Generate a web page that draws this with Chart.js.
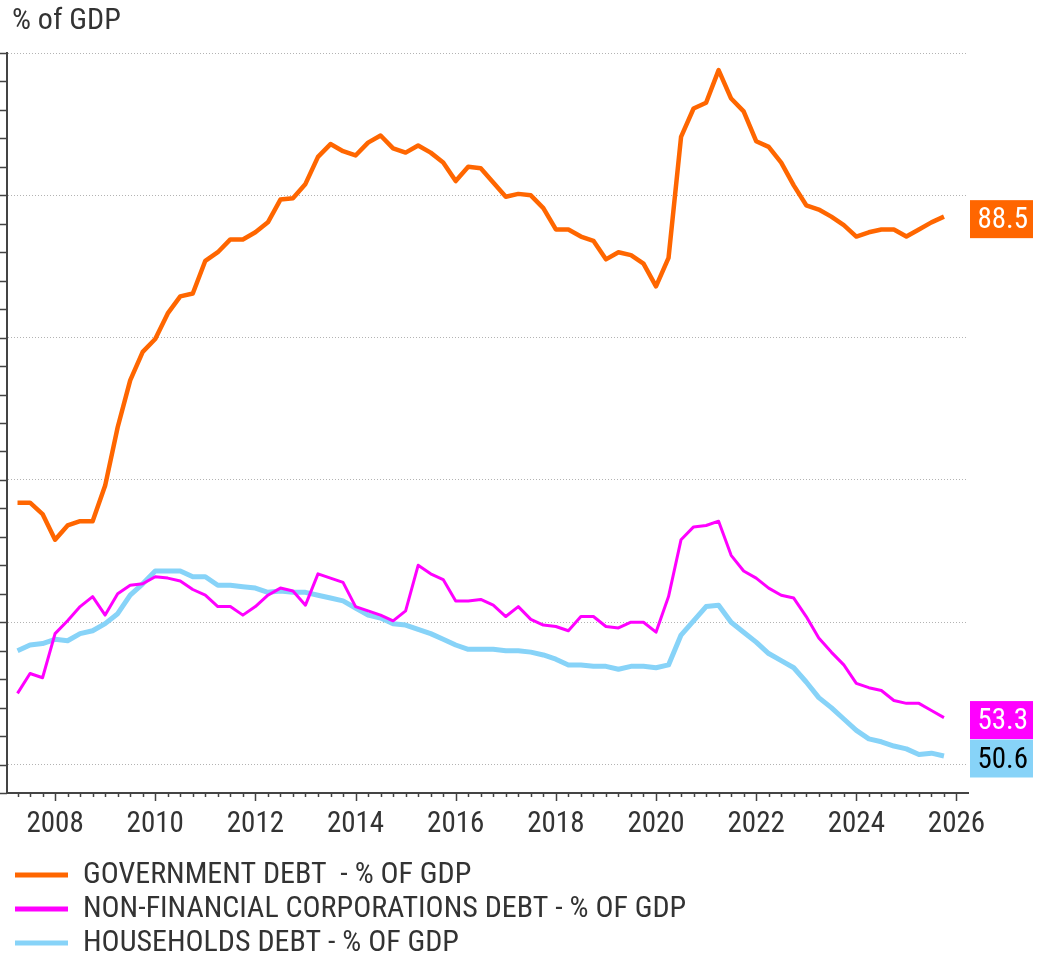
<!DOCTYPE html>
<html>
<head>
<meta charset="utf-8">
<title>Debt - % of GDP</title>
<script src="https://cdn.jsdelivr.net/npm/chart.js@4/dist/chart.umd.min.js"></script>
<style>
  html, body { margin: 0; padding: 0; background: #fff; }
  #wrap { width: 1038px; height: 956px; }
</style>
</head>
<body>
<div id="wrap"><canvas id="debtChart" width="1038" height="956"></canvas></div>
<script>
// quarterly observations, Q2 2007 - Q4 2025
const quarters = [
  '2007-Q2', '2007-Q3', '2007-Q4',
  '2008-Q1', '2008-Q2', '2008-Q3', '2008-Q4',
  '2009-Q1', '2009-Q2', '2009-Q3', '2009-Q4',
  '2010-Q1', '2010-Q2', '2010-Q3', '2010-Q4',
  '2011-Q1', '2011-Q2', '2011-Q3', '2011-Q4',
  '2012-Q1', '2012-Q2', '2012-Q3', '2012-Q4',
  '2013-Q1', '2013-Q2', '2013-Q3', '2013-Q4',
  '2014-Q1', '2014-Q2', '2014-Q3', '2014-Q4',
  '2015-Q1', '2015-Q2', '2015-Q3', '2015-Q4',
  '2016-Q1', '2016-Q2', '2016-Q3', '2016-Q4',
  '2017-Q1', '2017-Q2', '2017-Q3', '2017-Q4',
  '2018-Q1', '2018-Q2', '2018-Q3', '2018-Q4',
  '2019-Q1', '2019-Q2', '2019-Q3', '2019-Q4',
  '2020-Q1', '2020-Q2', '2020-Q3', '2020-Q4',
  '2021-Q1', '2021-Q2', '2021-Q3', '2021-Q4',
  '2022-Q1', '2022-Q2', '2022-Q3', '2022-Q4',
  '2023-Q1', '2023-Q2', '2023-Q3', '2023-Q4',
  '2024-Q1', '2024-Q2', '2024-Q3', '2024-Q4',
  '2025-Q1', '2025-Q2', '2025-Q3', '2025-Q4'
];

const govDebt = [
  68.4, 68.4, 67.6,
  65.8, 66.8, 67.1, 67.1,
  69.6, 73.7, 77.0, 79.0,
  79.9, 81.7, 82.9, 83.1,
  85.4, 86.0, 86.9, 86.9,
  87.4, 88.1, 89.7, 89.8,
  90.8, 92.7, 93.6, 93.1,
  92.8, 93.7, 94.2, 93.3,
  93.0, 93.5, 93.0, 92.3,
  91.0, 92.0, 91.9, 90.9,
  89.9, 90.1, 90.0, 89.1,
  87.6, 87.6, 87.1, 86.8,
  85.5, 86.0, 85.8, 85.2,
  83.6, 85.6, 94.1, 96.1,
  96.5, 98.8, 96.8, 95.9,
  93.8, 93.4, 92.3, 90.7,
  89.3, 89.0, 88.5, 87.9,
  87.1, 87.4, 87.6, 87.6,
  87.1, 87.6, 88.1, 88.5
];

const nfcDebt = [
  55.0, 56.4, 56.1,
  59.2, 60.1, 61.1, 61.8,
  60.5, 62.0, 62.6, 62.7,
  63.2, 63.1, 62.9, 62.3,
  61.9, 61.1, 61.1, 60.5,
  61.1, 61.9, 62.4, 62.2,
  61.2, 63.4, 63.1, 62.8,
  61.1, 60.8, 60.5, 60.1,
  60.8, 64.0, 63.4, 63.0,
  61.5, 61.5, 61.6, 61.2,
  60.4, 61.1, 60.2, 59.8,
  59.7, 59.4, 60.4, 60.4,
  59.7, 59.6, 60.0, 60.0,
  59.3, 61.8, 65.8, 66.7,
  66.8, 67.1, 64.7, 63.6,
  63.1, 62.4, 61.9, 61.7,
  60.4, 58.9, 57.9, 57.0,
  55.7, 55.4, 55.2, 54.5,
  54.3, 54.3, 53.8, 53.3
];

const hhDebt = [
  58.0, 58.4, 58.5,
  58.8, 58.7, 59.2, 59.4,
  59.9, 60.6, 61.9, 62.7,
  63.6, 63.6, 63.6, 63.2,
  63.2, 62.6, 62.6, 62.5,
  62.4, 62.1, 62.2, 62.1,
  62.1, 61.9, 61.7, 61.5,
  61.0, 60.5, 60.3, 59.9,
  59.8, 59.5, 59.2, 58.8,
  58.4, 58.1, 58.1, 58.1,
  58.0, 58.0, 57.9, 57.7,
  57.4, 57.0, 57.0, 56.9,
  56.9, 56.7, 56.9, 56.9,
  56.8, 57.0, 59.1, 60.1,
  61.1, 61.2, 60.0, 59.3,
  58.6, 57.8, 57.3, 56.8,
  55.8, 54.7, 54.0, 53.2,
  52.4, 51.8, 51.6, 51.3,
  51.1, 50.7, 50.8, 50.6
];

const seriesNames = [
  'GOVERNMENT DEBT  - % OF GDP',
  'NON-FINANCIAL CORPORATIONS DEBT - % OF GDP',
  'HOUSEHOLDS DEBT - % OF GDP'
];
const yearTicks = [2008, 2010, 2012, 2014, 2016, 2018, 2020, 2022, 2024, 2026];
const gridValues = [50, 60, 70, 80, 90, 100];

const FONT = "'Roboto Condensed', 'Liberation Sans', Arial, sans-serif";
const colors = ['#ff6600', '#ff00ff', '#87d3f8'];
const tagTextColors = ['#ffffff', '#ffffff', '#000000'];
const lineWidths = [4.5, 3, 5];

Chart.defaults.font.family = FONT;
Chart.defaults.color = '#333';

// quarter label -> decimal year (quarter start)
const quarterX = quarters.map(q => {
  const [yr, n] = q.split('-Q');
  return Number(yr) + (Number(n) - 1) / 4;
});

// nudge title and legend a bit to the right of the plot's left edge
const nudgeBlocks = {
  id: 'nudgeBlocks',
  afterLayout(chart) {
    if (chart.titleBlock) chart.titleBlock.left += 5;
    if (chart.legend) chart.legend.left += 4;
  }
};

// small tick marks on both axes (every 2 pts on y, every quarter on x)
const axisTicks = {
  id: 'axisTicks',
  afterDraw(chart) {
    const { ctx, chartArea, scales: { x, y } } = chart;
    ctx.save();
    ctx.strokeStyle = '#444';
    ctx.lineWidth = 1.5;
    ctx.beginPath();
    for (let v = y.min; v <= y.max; v += 2) {
      const py = Math.round(y.getPixelForValue(v)) + 0.5;
      ctx.moveTo(0, py);
      ctx.lineTo(chartArea.left, py);
    }
    for (let q = Math.ceil(x.min * 4); q <= Math.floor(x.max * 4); q++) {
      const v = q / 4;
      const px = Math.round(x.getPixelForValue(v)) + 0.5;
      const len = (v % 2 === 0) ? 8 : 4;
      ctx.moveTo(px, chartArea.bottom);
      ctx.lineTo(px, chartArea.bottom + len);
    }
    ctx.stroke();
    ctx.restore();
  }
};

// coloured boxes with the last value at the right edge
const valueTags = {
  id: 'valueTags',
  afterDatasetsDraw(chart) {
    const { ctx, chartArea } = chart;
    ctx.save();
    ctx.font = '29px ' + FONT;
    ctx.textAlign = 'right';
    ctx.textBaseline = 'middle';
    chart.data.datasets.forEach((ds, i) => {
      const pts = chart.getDatasetMeta(i).data;
      const last = pts[pts.length - 1];
      const cy = last.y + 2.5;
      ctx.fillStyle = colors[i];
      ctx.fillRect(chartArea.right + 2, cy - 19, 63, 38);
      ctx.fillStyle = tagTextColors[i];
      ctx.fillText(ds.data[ds.data.length - 1].toFixed(1), chartArea.right + 60, cy + 2);
    });
    ctx.restore();
  }
};

const ctx = document.getElementById('debtChart').getContext('2d');
new Chart(ctx, {
  type: 'line',
  data: {
    labels: quarterX,
    datasets: [govDebt, nfcDebt, hhDebt].map((vals, i) => ({
      label: seriesNames[i],
      data: vals,
      borderColor: colors[i],
      backgroundColor: colors[i],
      borderWidth: lineWidths[i]
    }))
  },
  options: {
    responsive: false,
    animation: false,
    layout: { padding: { left: 7, right: 70, top: 0, bottom: -12 } },
    elements: {
      point: { radius: 0, hoverRadius: 0 },
      line: { tension: 0, fill: false, borderJoinStyle: 'round' }
    },
    plugins: {
      title: {
        display: true,
        text: '% of GDP',
        align: 'start',
        color: '#333',
        font: { size: 30, weight: 'normal' },
        padding: { top: 3, bottom: 14 }
      },
      legend: {
        position: 'bottom',
        align: 'start',
        labels: {
          boxWidth: 53,
          boxHeight: 5,
          padding: 4,
          color: '#333',
          font: { size: 30 },
          generateLabels: chart => Chart.defaults.plugins.legend.labels.generateLabels(chart)
            .map(l => ({ ...l, lineWidth: 0 }))
        }
      },
      tooltip: { enabled: false }
    },
    scales: {
      x: {
        type: 'linear',
        min: 2007.04,
        max: 2026.23,
        afterBuildTicks: s => { s.ticks = yearTicks.map(v => ({ value: v })); },
        afterFit: s => { s.height = 63; },
        grid: { display: false, drawTicks: false },
        border: { display: true, color: '#444', width: 2 },
        ticks: {
          autoSkip: false,
          maxRotation: 0,
          padding: 14,
          color: '#333',
          font: { size: 29 },
          callback: v => String(v)
        }
      },
      y: {
        min: 48,
        max: 100,
        afterBuildTicks: s => { s.ticks = gridValues.map(v => ({ value: v })); },
        afterFit: s => { s.width = 0; },
        grid: { color: '#b3b3b3', lineWidth: 1, drawTicks: false },
        border: { display: true, color: '#444', width: 2, dash: [1, 2] },
        ticks: { display: false }
      }
    }
  },
  plugins: [nudgeBlocks, axisTicks, valueTags]
});
</script>
</body>
</html>
